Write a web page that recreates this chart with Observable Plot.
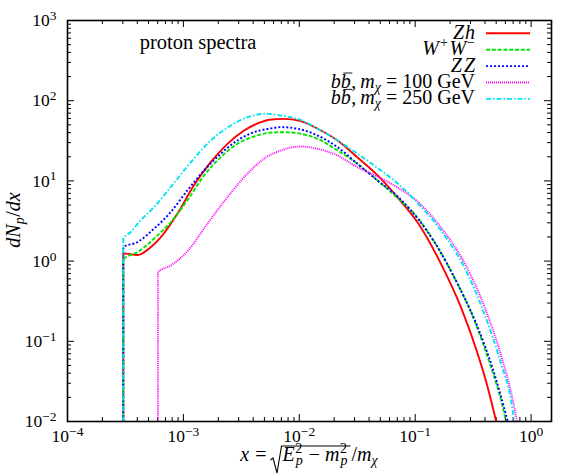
<!DOCTYPE html>
<html><head><meta charset="utf-8">
<script src="https://cdn.jsdelivr.net/npm/d3@7"></script>
<script src="https://cdn.jsdelivr.net/npm/@observablehq/plot@0.6"></script>
<style>
html,body{margin:0;padding:0;background:#fff;}
#chart svg{display:block;}
</style></head><body><div id="chart"></div>
<script>
// ---------------- data ----------------
const seriesKeys = ["Zh", "WW", "ZZ", "bb100", "bb250"];

const zhX = [3.03e-4, 3.03e-4, 4.0e-4, 4.89e-4, 6.36e-4, 8.87e-4, 1.23e-3, 1.72e-3, 2.40e-3, 3.34e-3, 4.65e-3, 5.48e-3, 7.39e-3, 1.03e-2, 1.44e-2, 2.14e-2, 3.18e-2, 4.74e-2, 7.05e-2, 0.105, 0.167, 0.248, 0.346, 0.422, 0.50];
const zhY = [0.01, 1.25, 1.19, 1.38, 1.97, 3.89, 8.77, 17.1, 29.0, 42.5, 53.9, 57.8, 59.4, 55.5, 44.7, 31.9, 19.6, 11.7, 6.21, 3.03, 0.925, 0.266, 0.0698, 0.0268, 0.0100];

const wwX = [3.03e-4, 3.03e-4, 4.0e-4, 5.57e-4, 7.76e-4, 1.08e-3, 1.51e-3, 2.10e-3, 2.92e-3, 4.07e-3, 5.48e-3, 7.39e-3, 1.03e-2, 1.44e-2, 2.14e-2, 3.18e-2, 4.74e-2, 7.05e-2, 9.82e-2, 0.146, 0.217, 0.324, 0.451, 0.551, 0.608];
const wwY = [0.01, 1.05, 1.29, 1.90, 3.05, 5.70, 11.7, 19.8, 29.0, 35.8, 39.8, 40.5, 38.7, 33.5, 23.9, 16.3, 10.1, 6.1, 3.89, 1.75, 0.630, 0.182, 0.0475, 0.0183, 0.0100];

const zzX = [3.03e-4, 3.03e-4, 4.0e-4, 5.57e-4, 7.76e-4, 1.08e-3, 1.51e-3, 2.10e-3, 2.92e-3, 4.07e-3, 5.48e-3, 6.92e-3, 9.64e-3, 1.44e-2, 2.14e-2, 3.18e-2, 4.74e-2, 7.05e-2, 0.105, 0.156, 0.232, 0.346, 0.482, 0.629];
const zzY = [0.01, 1.49, 1.72, 2.53, 4.07, 7.59, 13.5, 21.8, 31.9, 40.5, 44.7, 46.8, 44.7, 36.8, 26.3, 16.3, 10.1, 6.4, 3.4, 1.49, 0.521, 0.150, 0.0393, 0.0100];

const bb100X = [6.03e-4, 6.03e-4, 7.76e-4, 1.08e-3, 1.61e-3, 2.40e-3, 3.57e-3, 4.96e-3, 6.92e-3, 1.03e-2, 1.44e-2, 2.14e-2, 3.18e-2, 4.74e-2, 7.05e-2, 0.105, 0.167, 0.265, 0.395, 0.551, 0.672, 0.757];
const bb100Y = [0.01, 0.727, 0.881, 1.32, 2.92, 6.27, 12.3, 18.9, 23.9, 26.9, 25.1, 20.7, 14.8, 11.3, 8.28, 5.53, 2.62, 0.961, 0.272, 0.0665, 0.0230, 0.0100];

const bb250X = [3.03e-4, 3.03e-4, 3.5e-4, 4.27e-4, 5.57e-4, 7.76e-4, 1.16e-3, 1.72e-3, 2.56e-3, 3.81e-3, 5.2e-3, 6.92e-3, 9.64e-3, 1.44e-2, 2.14e-2, 3.18e-2, 4.74e-2, 7.05e-2, 9.82e-2, 0.167, 0.265, 0.395, 0.551, 0.672, 0.718];
const bb250Y = [0.01, 1.90, 2.29, 3.21, 4.70, 8.35, 17.1, 31.9, 49.1, 64.1, 68.7, 65.3, 59.4, 44.7, 31.9, 21.8, 14.5, 9.29, 5.86, 2.41, 0.840, 0.220, 0.0524, 0.0183, 0.0100];

const xTickValues = [1e-4, 1e-3, 1e-2, 1e-1, 1];
const yTickValues = [1e-2, 1e-1, 1, 10, 100, 1000];
const xDomain = [1e-4, 1.5];
const yDomain = [1e-2, 1e3];

// ---------------- styles / layout ----------------
const FONT = "'Liberation Serif', 'DejaVu Serif', serif";
const styles = {
  Zh:    {stroke: "#ff0000", dash: null},
  WW:    {stroke: "#00e600", dash: "4,1.8"},
  ZZ:    {stroke: "#0000ff", dash: "2,2"},
  bb100: {stroke: "#ff00ff", dash: "1,1"},
  bb250: {stroke: "#00e5ee", dash: "5,2,1.5,2"}
};
const W = 576, H = 474, mL = 67, mR = 25, mT = 20, mB = 53;
const fw = W - mL - mR, fh = H - mT - mB;

const xs = {Zh: zhX, WW: wwX, ZZ: zzX, bb100: bb100X, bb250: bb250X};
const ys = {Zh: zhY, WW: wwY, ZZ: zzY, bb100: bb100Y, bb250: bb250Y};
const rows = Object.fromEntries(seriesKeys.map(k => [k, xs[k].map((x, i) => ({x, y: ys[k][i]}))]));

const xMinor = [];
for (let e = -4; e <= 0; e++) for (let m = 2; m <= 9; m++) { const v = m * 10 ** e; if (v <= xDomain[1]) xMinor.push(v); }
const yMinor = [];
for (let e = -2; e <= 2; e++) for (let m = 2; m <= 9; m++) yMinor.push(m * 10 ** e);

const fmt = d => "10^" + Math.round(Math.log10(d));
const MAJ = 7, MIN = 4;

const plot = Plot.plot({
  width: W, height: H,
  marginLeft: mL, marginRight: mR, marginTop: mT, marginBottom: mB,
  style: {fontFamily: FONT, fontSize: "17px", color: "#000", background: "#fff", overflow: "visible"},
  x: {type: "log", domain: xDomain},
  y: {type: "log", domain: yDomain},
  marks: [
    Plot.axisX({ticks: xTickValues, tickSize: 0, tickPadding: 8, tickFormat: fmt, label: null}),
    Plot.axisY({ticks: yTickValues, tickSize: 0, tickPadding: 11, tickFormat: fmt, label: null}),
    Plot.tickX(xTickValues, {x: d => d, insetTop: fh - MAJ, stroke: "#000"}),
    Plot.tickX(xTickValues, {x: d => d, insetBottom: fh - MAJ, stroke: "#000"}),
    Plot.tickX(xMinor, {x: d => d, insetTop: fh - MIN, stroke: "#000"}),
    Plot.tickX(xMinor, {x: d => d, insetBottom: fh - MIN, stroke: "#000"}),
    Plot.tickY(yTickValues, {y: d => d, insetRight: fw - MAJ, stroke: "#000"}),
    Plot.tickY(yTickValues, {y: d => d, insetLeft: fw - MAJ, stroke: "#000"}),
    Plot.tickY(yMinor, {y: d => d, insetRight: fw - MIN, stroke: "#000"}),
    Plot.tickY(yMinor, {y: d => d, insetLeft: fw - MIN, stroke: "#000"}),
    ...seriesKeys.map(k => Plot.line(rows[k], {
      x: "x", y: "y", stroke: styles[k].stroke, strokeWidth: 1.9,
      strokeDasharray: styles[k].dash, strokeLinecap: "butt", strokeLinejoin: "miter",
      clip: true, curve: "monotone-x"
    })),
    Plot.frame({stroke: "#000", strokeWidth: 1.6})
  ]
});
document.getElementById("chart").appendChild(plot);
const svg = d3.select(plot);

// ---------- superscript tick labels ----------
svg.selectAll('g[aria-label="x-axis tick label"] text, g[aria-label="y-axis tick label"] text').each(function () {
  const m = (this.textContent || "").match(/^10\^(-?\d+)$/);
  if (!m) return;
  const e = m[1].replace("-", "\u2212");
  this.textContent = "";
  const s = d3.select(this).attr("font-size", 17.5);
  s.append("tspan").text("10");
  s.append("tspan").attr("dy", "-0.45em").attr("font-size", 13.5).text(e);
});

// ---------- rich text helper: pieces laid out one by one (start-anchored) ----------
function rich(parent, pieces, base) {
  parent.attr("text-anchor", "start");
  let x = 0;
  for (const p of pieces) {
    x += p.pre || 0;
    const t = parent.append("text").attr("x", x).attr("y", p.dy || 0).attr("text-anchor", "start")
      .attr("font-size", p.size || base).attr("font-style", p.it ? "italic" : "normal")
      .style("white-space", "pre").text(p.t);
    const w = t.node().getComputedTextLength();
    if (p.over) parent.append("line").attr("x1", x + 2.5).attr("x2", x + w + 1.5)
      .attr("y1", -0.75 * base).attr("y2", -0.75 * base).attr("stroke", "#000").attr("stroke-width", 0.9);
    if (p.adv !== false) x += w;
  }
  return {width: x};
}

// ---------- annotation ----------
svg.append("text").attr("x", 198).attr("y", 49).attr("text-anchor", "middle")
  .attr("font-family", FONT).attr("font-size", 20.5).text("proton spectra");

// ---------- legend ----------
const LF = 20, SUB = 14;
function labelPieces(key) {
  if (key === "Zh") return [{t: "Z", it: true}, {t: "h", it: true, pre: 1}];
  if (key === "WW") return [{t: "W", it: true}, {t: "+", size: SUB, dy: -8, pre: 1},
    {t: "W", it: true, pre: 1.5}, {t: "\u2212", size: SUB, dy: -8, pre: 1}];
  if (key === "ZZ") return [{t: "Z", it: true}, {t: "Z", it: true, pre: 2}];
  const mass = key === "bb100" ? "100" : "250";
  return [{t: "b", it: true}, {t: "b", it: true, over: true}, {t: ",", pre: 0.5}, {t: "m", it: true, pre: 4},
    {t: "\u03c7", it: true, size: SUB, dy: 4}, {t: "=", pre: 5}, {t: mass, pre: 5}, {t: "GeV", pre: 5}];
}
seriesKeys.forEach((k, i) => {
  const yy = 33.3 + i * 16.4;
  const g = svg.append("g").attr("font-family", FONT);
  const r = rich(g, labelPieces(k), LF);
  g.attr("transform", `translate(${475 - r.width},${yy + 5.5})`);
  svg.append("line").attr("x1", 486).attr("x2", 530).attr("y1", yy).attr("y2", yy)
    .attr("stroke", styles[k].stroke).attr("stroke-width", 1.9)
    .attr("stroke-dasharray", styles[k].dash);
});

// ---------- y label ----------
{
  const outer = svg.append("g").attr("transform", "translate(20,220) rotate(-90)").attr("font-family", FONT);
  const inner = outer.append("g");
  const r = rich(inner, [{t: "d", it: true}, {t: "N", it: true},
    {t: "p", it: true, size: 14, dy: 4}, {t: "/", pre: 0.5}, {t: "d", it: true}, {t: "x", it: true}], 20);
  inner.attr("transform", `translate(${-r.width / 2},0)`);
}

// ---------- x label ----------
{
  const XF = 20;
  const g = svg.append("g").attr("font-family", FONT);
  const baseY = 461;
  const r1 = rich(g, [{t: "x", it: true}, {t: "=", pre: 6}], XF);
  const radX = r1.width + 4;
  const radW = 12;
  const rg = g.append("g");
  const r2 = rich(rg, [
    {t: "E", it: true},
    {t: "2", size: SUB, dy: -8, adv: false, pre: 0.5},
    {t: "p", it: true, size: SUB, dy: 4, pre: 0.5},
    {t: "\u2212", pre: 6},
    {t: "m", it: true, pre: 5},
    {t: "2", size: SUB, dy: -8, adv: false, pre: 0.5},
    {t: "p", it: true, size: SUB, dy: 4, pre: 0.5}
  ], XF);
  rg.attr("transform", `translate(${radX + radW},0)`);
  const barEnd = radX + radW + r2.width + 3;
  const tg = g.append("g");
  const r3 = rich(tg, [{t: "/", pre: 1}, {t: "m", it: true}, {t: "\u03c7", it: true, size: SUB, dy: 4}], XF);
  tg.attr("transform", `translate(${barEnd},0)`);
  const a = radX;
  g.append("path")
    .attr("d", `M${a},${-1}L${a + 2.5},${-3}L${a + 6.5},${12}L${a + 11},${-15}L${barEnd},${-15}`)
    .attr("fill", "none").attr("stroke", "#000").attr("stroke-width", 1.1).attr("stroke-linejoin", "miter");
  const total = barEnd + r3.width;
  g.attr("transform", `translate(${(mL + W - mR) / 2 - total / 2},${baseY})`);
}
</script></body></html>
